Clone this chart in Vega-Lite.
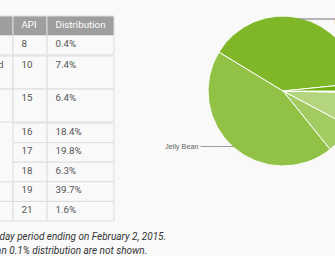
{
  "$schema": "https://vega.github.io/schema/vega-lite/v6.json",
  "background": "#f9f9f9",
  "padding": {"left": -111, "top": 14, "right": 0, "bottom": 0},
  "config": {"view": {"stroke": null}, "font": "Roboto"},
  "datasets": {
    "table": [
      {"r": "r0", "col": "Version", "text": "Version"},
      {"r": "r0", "col": "Codename", "text": "Codename"},
      {"r": "r0", "col": "API", "text": "API"},
      {"r": "r0", "col": "Distribution", "text": "Distribution"},
      {"r": "r1", "col": "Version", "text": "2.2"},
      {"r": "r1", "col": "Codename", "text": "Froyo"},
      {"r": "r1", "col": "API", "text": "8"},
      {"r": "r1", "col": "Distribution", "text": "0.4%"},
      {"r": "r2", "col": "Version", "text": ["2.3.3 -", "2.3.7"]},
      {"r": "r2", "col": "Codename", "text": "Gingerbread"},
      {"r": "r2", "col": "API", "text": "10"},
      {"r": "r2", "col": "Distribution", "text": "7.4%"},
      {"r": "r3", "col": "Version", "text": ["4.0.3 -", "4.0.4"]},
      {"r": "r3", "col": "Codename", "text": ["Ice Cream", "Sandwich"]},
      {"r": "r3", "col": "API", "text": "15"},
      {"r": "r3", "col": "Distribution", "text": "6.4%"},
      {"r": "r4", "col": "Version", "text": "4.1.x"},
      {"r": "r4", "col": "Codename", "text": "Jelly Bean"},
      {"r": "r4", "col": "API", "text": "16"},
      {"r": "r4", "col": "Distribution", "text": "18.4%"},
      {"r": "r5", "col": "Version", "text": "4.2.x"},
      {"r": "r5", "col": "Codename", "text": ""},
      {"r": "r5", "col": "API", "text": "17"},
      {"r": "r5", "col": "Distribution", "text": "19.8%"},
      {"r": "r6", "col": "Version", "text": "4.3"},
      {"r": "r6", "col": "Codename", "text": ""},
      {"r": "r6", "col": "API", "text": "18"},
      {"r": "r6", "col": "Distribution", "text": "6.3%"},
      {"r": "r7", "col": "Version", "text": "4.4"},
      {"r": "r7", "col": "Codename", "text": "KitKat"},
      {"r": "r7", "col": "API", "text": "19"},
      {"r": "r7", "col": "Distribution", "text": "39.7%"},
      {"r": "r8", "col": "Version", "text": "5.0"},
      {"r": "r8", "col": "Codename", "text": "Lollipop"},
      {"r": "r8", "col": "API", "text": "21"},
      {"r": "r8", "col": "Distribution", "text": "1.6%"}
    ],
    "pie": [
      {"name": "Froyo", "share": 0.4},
      {"name": "Gingerbread", "share": 7.4},
      {"name": "Ice Cream Sandwich", "share": 6.4},
      {"name": "Jelly Bean", "share": 44.5},
      {"name": "KitKat", "share": 39.7},
      {"name": "Lollipop", "share": 1.6}
    ]
  },
  "hconcat": [
    {
      "spacing": -1,
      "title": {
        "text": ["Data collected during a 7-day period ending on February 2, 2015.", "Any versions with less than 0.1% distribution are not shown."],
        "orient": "bottom",
        "anchor": "start",
        "font": "Roboto",
        "fontSize": 10,
        "fontStyle": "italic",
        "fontWeight": "normal",
        "color": "#333333",
        "lineHeight": 14,
        "offset": 10,
        "dx": -3
      },
      "vconcat": [
        {
          "spacing": 0,
          "bounds": "flush",
          "hconcat": [
            {"data": {"name": "table"}, "transform": [{"filter": "datum.col === 'Version' && indexof(['r0','r1'], datum.r) >= 0"}],
             "width": 49, "height": 39,
             "layer": [
               {"mark": {"type": "rect", "stroke": "#dddddd", "strokeWidth": 1},
                "encoding": {"y": {"field": "r", "type": "nominal", "axis": null, "scale": {"type": "band", "paddingInner": 0, "paddingOuter": 0}},
                             "fill": {"condition": {"test": "datum.r === 'r0'", "value": "#9e9e9e"}, "value": "#f9f9f9"}}},
               {"mark": {"type": "text", "align": "left", "baseline": "top", "dx": 8.5, "dy": 3.5, "lineHeight": 13, "fontSize": 9.75},
                "encoding": {"x": {"field": "col", "type": "nominal", "axis": null, "bandPosition": 0, "scale": {"type": "band", "paddingInner": 0, "paddingOuter": 0}},
                             "y": {"field": "r", "type": "nominal", "axis": null, "bandPosition": 0, "scale": {"type": "band", "paddingInner": 0, "paddingOuter": 0}},
                             "text": {"field": "text"},
                             "color": {"condition": {"test": "datum.r === 'r0'", "value": "#ffffff"}, "value": "#555555"}}}
             ]},
            {"data": {"name": "table"}, "transform": [{"filter": "datum.col === 'Codename' && indexof(['r0','r1'], datum.r) >= 0"}],
             "width": 71, "height": 39,
             "layer": [
               {"mark": {"type": "rect", "stroke": "#dddddd", "strokeWidth": 1},
                "encoding": {"y": {"field": "r", "type": "nominal", "axis": null, "scale": {"type": "band", "paddingInner": 0, "paddingOuter": 0}},
                             "fill": {"condition": {"test": "datum.r === 'r0'", "value": "#9e9e9e"}, "value": "#f9f9f9"}}},
               {"mark": {"type": "text", "align": "left", "baseline": "top", "dx": 8.5, "dy": 3.5, "lineHeight": 13, "fontSize": 9.75},
                "encoding": {"x": {"field": "col", "type": "nominal", "axis": null, "bandPosition": 0, "scale": {"type": "band", "paddingInner": 0, "paddingOuter": 0}},
                             "y": {"field": "r", "type": "nominal", "axis": null, "bandPosition": 0, "scale": {"type": "band", "paddingInner": 0, "paddingOuter": 0}},
                             "text": {"field": "text"},
                             "color": {"condition": {"test": "datum.r === 'r0'", "value": "#ffffff"}, "value": "#555555"}}}
             ]},
            {"data": {"name": "table"}, "transform": [{"filter": "datum.col === 'API' && indexof(['r0','r1'], datum.r) >= 0"}],
             "width": 34, "height": 39,
             "layer": [
               {"mark": {"type": "rect", "stroke": "#dddddd", "strokeWidth": 1},
                "encoding": {"y": {"field": "r", "type": "nominal", "axis": null, "scale": {"type": "band", "paddingInner": 0, "paddingOuter": 0}},
                             "fill": {"condition": {"test": "datum.r === 'r0'", "value": "#9e9e9e"}, "value": "#f9f9f9"}}},
               {"mark": {"type": "text", "align": "left", "baseline": "top", "dx": 8.5, "dy": 3.5, "lineHeight": 13, "fontSize": 9.75},
                "encoding": {"x": {"field": "col", "type": "nominal", "axis": null, "bandPosition": 0, "scale": {"type": "band", "paddingInner": 0, "paddingOuter": 0}},
                             "y": {"field": "r", "type": "nominal", "axis": null, "bandPosition": 0, "scale": {"type": "band", "paddingInner": 0, "paddingOuter": 0}},
                             "text": {"field": "text"},
                             "color": {"condition": {"test": "datum.r === 'r0'", "value": "#ffffff"}, "value": "#555555"}}}
             ]},
            {"data": {"name": "table"}, "transform": [{"filter": "datum.col === 'Distribution' && indexof(['r0','r1'], datum.r) >= 0"}],
             "width": 67, "height": 39,
             "layer": [
               {"mark": {"type": "rect", "stroke": "#dddddd", "strokeWidth": 1},
                "encoding": {"y": {"field": "r", "type": "nominal", "axis": null, "scale": {"type": "band", "paddingInner": 0, "paddingOuter": 0}},
                             "fill": {"condition": {"test": "datum.r === 'r0'", "value": "#9e9e9e"}, "value": "#f9f9f9"}}},
               {"mark": {"type": "text", "align": "left", "baseline": "top", "dx": 8.5, "dy": 3.5, "lineHeight": 13, "fontSize": 9.75},
                "encoding": {"x": {"field": "col", "type": "nominal", "axis": null, "bandPosition": 0, "scale": {"type": "band", "paddingInner": 0, "paddingOuter": 0}},
                             "y": {"field": "r", "type": "nominal", "axis": null, "bandPosition": 0, "scale": {"type": "band", "paddingInner": 0, "paddingOuter": 0}},
                             "text": {"field": "text"},
                             "color": {"condition": {"test": "datum.r === 'r0'", "value": "#ffffff"}, "value": "#555555"}}}
             ]}
          ]
        },
        {
          "spacing": 0,
          "bounds": "flush",
          "hconcat": [
            {"data": {"name": "table"}, "transform": [{"filter": "datum.col === 'Version' && indexof(['r2','r3'], datum.r) >= 0"}],
             "width": 49, "height": 66,
             "layer": [
               {"mark": {"type": "rect", "stroke": "#dddddd", "strokeWidth": 1, "fill": "#f9f9f9"},
                "encoding": {"y": {"field": "r", "type": "nominal", "axis": null, "scale": {"type": "band", "paddingInner": 0, "paddingOuter": 0}}}},
               {"mark": {"type": "text", "align": "left", "baseline": "top", "dx": 8.5, "dy": 3.5, "lineHeight": 13, "fontSize": 9.75, "color": "#555555"},
                "encoding": {"x": {"field": "col", "type": "nominal", "axis": null, "bandPosition": 0, "scale": {"type": "band", "paddingInner": 0, "paddingOuter": 0}},
                             "y": {"field": "r", "type": "nominal", "axis": null, "bandPosition": 0, "scale": {"type": "band", "paddingInner": 0, "paddingOuter": 0}},
                             "text": {"field": "text"}}}
             ]},
            {"data": {"name": "table"}, "transform": [{"filter": "datum.col === 'Codename' && indexof(['r2','r3'], datum.r) >= 0"}],
             "width": 71, "height": 66,
             "layer": [
               {"mark": {"type": "rect", "stroke": "#dddddd", "strokeWidth": 1, "fill": "#f9f9f9"},
                "encoding": {"y": {"field": "r", "type": "nominal", "axis": null, "scale": {"type": "band", "paddingInner": 0, "paddingOuter": 0}}}},
               {"mark": {"type": "text", "align": "left", "baseline": "top", "dx": 8.5, "dy": 3.5, "lineHeight": 13, "fontSize": 9.75, "color": "#555555"},
                "encoding": {"x": {"field": "col", "type": "nominal", "axis": null, "bandPosition": 0, "scale": {"type": "band", "paddingInner": 0, "paddingOuter": 0}},
                             "y": {"field": "r", "type": "nominal", "axis": null, "bandPosition": 0, "scale": {"type": "band", "paddingInner": 0, "paddingOuter": 0}},
                             "text": {"field": "text"}}}
             ]},
            {"data": {"name": "table"}, "transform": [{"filter": "datum.col === 'API' && indexof(['r2','r3'], datum.r) >= 0"}],
             "width": 34, "height": 66,
             "layer": [
               {"mark": {"type": "rect", "stroke": "#dddddd", "strokeWidth": 1, "fill": "#f9f9f9"},
                "encoding": {"y": {"field": "r", "type": "nominal", "axis": null, "scale": {"type": "band", "paddingInner": 0, "paddingOuter": 0}}}},
               {"mark": {"type": "text", "align": "left", "baseline": "top", "dx": 8.5, "dy": 3.5, "lineHeight": 13, "fontSize": 9.75, "color": "#555555"},
                "encoding": {"x": {"field": "col", "type": "nominal", "axis": null, "bandPosition": 0, "scale": {"type": "band", "paddingInner": 0, "paddingOuter": 0}},
                             "y": {"field": "r", "type": "nominal", "axis": null, "bandPosition": 0, "scale": {"type": "band", "paddingInner": 0, "paddingOuter": 0}},
                             "text": {"field": "text"}}}
             ]},
            {"data": {"name": "table"}, "transform": [{"filter": "datum.col === 'Distribution' && indexof(['r2','r3'], datum.r) >= 0"}],
             "width": 67, "height": 66,
             "layer": [
               {"mark": {"type": "rect", "stroke": "#dddddd", "strokeWidth": 1, "fill": "#f9f9f9"},
                "encoding": {"y": {"field": "r", "type": "nominal", "axis": null, "scale": {"type": "band", "paddingInner": 0, "paddingOuter": 0}}}},
               {"mark": {"type": "text", "align": "left", "baseline": "top", "dx": 8.5, "dy": 3.5, "lineHeight": 13, "fontSize": 9.75, "color": "#555555"},
                "encoding": {"x": {"field": "col", "type": "nominal", "axis": null, "bandPosition": 0, "scale": {"type": "band", "paddingInner": 0, "paddingOuter": 0}},
                             "y": {"field": "r", "type": "nominal", "axis": null, "bandPosition": 0, "scale": {"type": "band", "paddingInner": 0, "paddingOuter": 0}},
                             "text": {"field": "text"}}}
             ]}
          ]
        },
        {
          "spacing": 0,
          "bounds": "flush",
          "hconcat": [
            {"data": {"name": "table"}, "transform": [{"filter": "datum.col === 'Version' && indexof(['r4','r5','r6','r7','r8'], datum.r) >= 0"}],
             "width": 49, "height": 98,
             "layer": [
               {"mark": {"type": "rect", "stroke": "#dddddd", "strokeWidth": 1, "fill": "#f9f9f9"},
                "encoding": {"y": {"field": "r", "type": "nominal", "axis": null, "scale": {"type": "band", "paddingInner": 0, "paddingOuter": 0}}}},
               {"mark": {"type": "text", "align": "left", "baseline": "top", "dx": 8.5, "dy": 3.5, "lineHeight": 13, "fontSize": 9.75, "color": "#555555"},
                "encoding": {"x": {"field": "col", "type": "nominal", "axis": null, "bandPosition": 0, "scale": {"type": "band", "paddingInner": 0, "paddingOuter": 0}},
                             "y": {"field": "r", "type": "nominal", "axis": null, "bandPosition": 0, "scale": {"type": "band", "paddingInner": 0, "paddingOuter": 0}},
                             "text": {"field": "text"}}}
             ]},
            {"data": {"name": "table"}, "transform": [{"filter": "datum.col === 'Codename' && indexof(['r4','r5','r6','r7','r8'], datum.r) >= 0"}],
             "width": 71, "height": 98,
             "layer": [
               {"mark": {"type": "rect", "stroke": "#dddddd", "strokeWidth": 1, "fill": "#f9f9f9"},
                "encoding": {"y": {"field": "r", "type": "nominal", "axis": null, "scale": {"type": "band", "paddingInner": 0, "paddingOuter": 0}},
                             "strokeOpacity": {"condition": {"test": "indexof(['r4','r5','r6'], datum.r) >= 0", "value": 0}, "value": 1}}},
               {"mark": {"type": "text", "align": "left", "baseline": "top", "dx": 8.5, "dy": 3.5, "lineHeight": 13, "fontSize": 9.75, "color": "#555555"},
                "encoding": {"x": {"field": "col", "type": "nominal", "axis": null, "bandPosition": 0, "scale": {"type": "band", "paddingInner": 0, "paddingOuter": 0}},
                             "y": {"field": "r", "type": "nominal", "axis": null, "bandPosition": 0, "scale": {"type": "band", "paddingInner": 0, "paddingOuter": 0}},
                             "text": {"field": "text"}}}
             ]},
            {"data": {"name": "table"}, "transform": [{"filter": "datum.col === 'API' && indexof(['r4','r5','r6','r7','r8'], datum.r) >= 0"}],
             "width": 34, "height": 98,
             "layer": [
               {"mark": {"type": "rect", "stroke": "#dddddd", "strokeWidth": 1, "fill": "#f9f9f9"},
                "encoding": {"y": {"field": "r", "type": "nominal", "axis": null, "scale": {"type": "band", "paddingInner": 0, "paddingOuter": 0}}}},
               {"mark": {"type": "text", "align": "left", "baseline": "top", "dx": 8.5, "dy": 3.5, "lineHeight": 13, "fontSize": 9.75, "color": "#555555"},
                "encoding": {"x": {"field": "col", "type": "nominal", "axis": null, "bandPosition": 0, "scale": {"type": "band", "paddingInner": 0, "paddingOuter": 0}},
                             "y": {"field": "r", "type": "nominal", "axis": null, "bandPosition": 0, "scale": {"type": "band", "paddingInner": 0, "paddingOuter": 0}},
                             "text": {"field": "text"}}}
             ]},
            {"data": {"name": "table"}, "transform": [{"filter": "datum.col === 'Distribution' && indexof(['r4','r5','r6','r7','r8'], datum.r) >= 0"}],
             "width": 67, "height": 98,
             "layer": [
               {"mark": {"type": "rect", "stroke": "#dddddd", "strokeWidth": 1, "fill": "#f9f9f9"},
                "encoding": {"y": {"field": "r", "type": "nominal", "axis": null, "scale": {"type": "band", "paddingInner": 0, "paddingOuter": 0}}}},
               {"mark": {"type": "text", "align": "left", "baseline": "top", "dx": 8.5, "dy": 3.5, "lineHeight": 13, "fontSize": 9.75, "color": "#555555"},
                "encoding": {"x": {"field": "col", "type": "nominal", "axis": null, "bandPosition": 0, "scale": {"type": "band", "paddingInner": 0, "paddingOuter": 0}},
                             "y": {"field": "r", "type": "nominal", "axis": null, "bandPosition": 0, "scale": {"type": "band", "paddingInner": 0, "paddingOuter": 0}},
                             "text": {"field": "text"}}}
             ]}
          ]
        }
      ]
    },
    {
      "data": {"name": "pie"},
      "width": 150,
      "height": 150,
      "encoding": {
        "theta": {"field": "share", "type": "quantitative", "stack": true, "scale": {"range": [1.5708, 7.854]}},
        "order": {"field": "name", "type": "ordinal", "sort": "ascending"}
      },
      "layer": [
        {"mark": {"type": "arc", "stroke": "#ffffff", "strokeWidth": 1},
         "encoding": {"color": {"field": "name", "type": "nominal", "legend": null,
           "scale": {"domain": ["Froyo", "Gingerbread", "Ice Cream Sandwich", "Jelly Bean", "KitKat", "Lollipop"],
                     "range": ["#c4df9b", "#b3d57e", "#a2cb62", "#91c145", "#80b729", "#6fad0c"]}}}},
        {"mark": {"type": "text", "radius": 75, "align": "right", "baseline": "middle", "font": "DejaVu Sans", "color": "#9a9a9a"},
         "encoding": {"text": {"condition": {"test": "datum.name === 'Jelly Bean'", "value": "─────"}, "value": ""},
                      "size": {"condition": {"test": "datum.name === 'Jelly Bean'", "value": 11}, "value": 0}}},
        {"mark": {"type": "text", "radius": 75, "align": "right", "baseline": "middle", "dx": -35, "font": "Liberation Sans", "color": "#666666"},
         "encoding": {"text": {"condition": {"test": "datum.name === 'Jelly Bean'", "field": "name"}, "value": ""},
                      "size": {"condition": {"test": "datum.name === 'Jelly Bean'", "value": 7.3}, "value": 0}}},
        {"mark": {"type": "text", "radius": 75, "align": "left", "baseline": "top", "dy": 1.5, "font": "DejaVu Sans", "color": "#8a8a8a"},
         "encoding": {"text": {"condition": {"test": "datum.name !== 'Jelly Bean'", "value": "▔▔▔▔▔▔▔▔"}, "value": ""},
                      "size": {"condition": {"test": "datum.name !== 'Jelly Bean'", "value": 7}, "value": 0}}},
        {"mark": {"type": "text", "radius": 75, "align": "left", "baseline": "top", "dx": 35, "font": "Liberation Sans", "color": "#666666"},
         "encoding": {"text": {"condition": {"test": "datum.name !== 'Jelly Bean'", "field": "name"}, "value": ""},
                      "size": {"condition": {"test": "datum.name !== 'Jelly Bean'", "value": 7.3}, "value": 0}}}
      ]
    }
  ],
  "spacing": -3
}
